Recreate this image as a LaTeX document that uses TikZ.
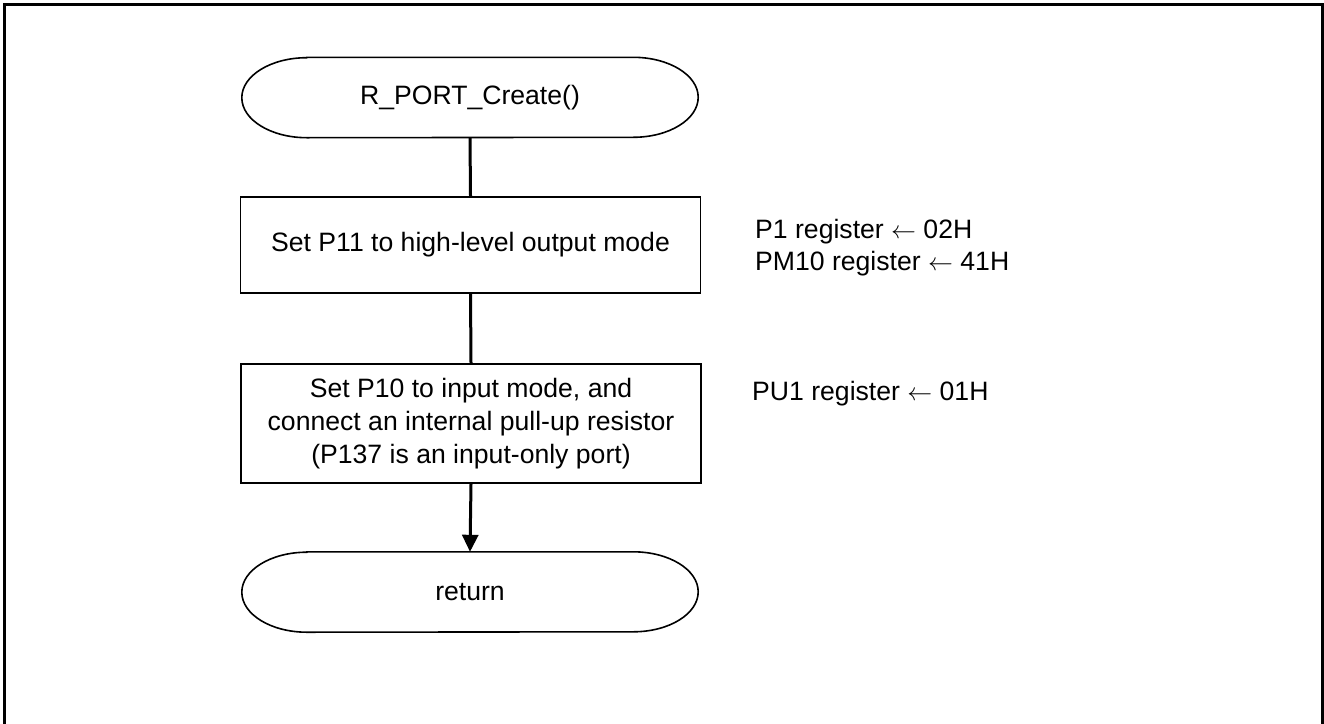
\documentclass[tikz,border=0pt]{standalone}
\usepackage{fontspec}
\setmainfont{Liberation Sans}
\usetikzlibrary{arrows.meta}
\begin{document}
\begin{tikzpicture}[x=1pt,y=1pt,
  every node/.style={font=\fontsize{26.6}{33}\selectfont},
  termnode/.style={rectangle,draw=none,minimum width=456pt,minimum height=80pt,inner sep=0pt},
  procbox/.style={rectangle,draw,line width=1.8pt,minimum width=460pt,inner sep=0pt,align=center},
  note/.style={anchor=west,inner sep=0pt,align=left},
  flow/.style={line width=3pt},
  outline/.style={line width=1.6pt}]
\useasboundingbox (0,0) rectangle (1324,-723);
\draw[line width=3pt] (4.5,-740) -- (4.5,-4) -- (1322.5,-4) -- (1322.5,-740);

\node[termnode] (t1) at (470,-97.5) {R\_PORT\_Create()};
\draw[outline] ([xshift=65pt]t1.north west) -- ([xshift=-65pt]t1.north east)
  arc[start angle=90,end angle=-90,x radius=65,y radius=40]
  -- ([xshift=65pt]t1.south west)
  arc[start angle=-90,end angle=-270,x radius=65,y radius=40] -- cycle;

\node[procbox,minimum height=96pt] (b1) at (470.5,-245) {Set P11 to high-level output mode};

\node[procbox,minimum height=119pt] (b2) at (471,-423.5) {Set P10 to input mode, and\\connect an internal pull-up resistor\\(P137 is an input-only port)};

\node[termnode] (t2) at (470,-592) {return};
\draw[outline] ([xshift=65pt]t2.north west) -- ([xshift=-65pt]t2.north east)
  arc[start angle=90,end angle=-90,x radius=65,y radius=40]
  -- ([xshift=65pt]t2.south west)
  arc[start angle=-90,end angle=-270,x radius=65,y radius=40] -- cycle;

\node[note] (n1) at (755,-232) {P1 register \(\leftarrow\) 02H};
\node[note] (n2) at (755,-264) {PM10 register \(\leftarrow\) 41H};
\node[note] (n3) at (752,-394) {PU1 register \(\leftarrow\) 01H};

\draw[flow] (t1.south) -- (b1.north);
\draw[flow] (b1.south) -- (b2.north);
\draw[flow,-{Triangle[length=17pt,width=16pt]}] (b2.south) -- (t2.north);
\end{tikzpicture}
\end{document}
